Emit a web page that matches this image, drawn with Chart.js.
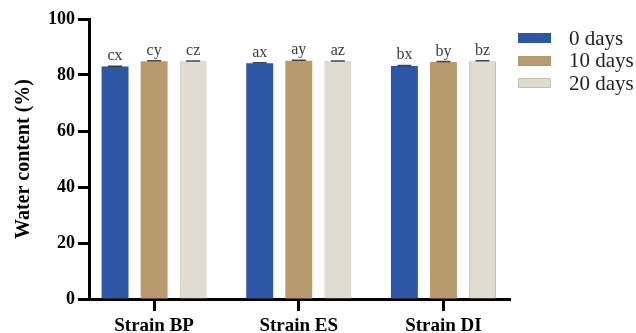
<!DOCTYPE html>
<html>
<head>
<meta charset="utf-8">
<script src="https://cdn.jsdelivr.net/npm/chart.js@4.4.1/dist/chart.umd.min.js"></script>
<style>
  body { margin: 0; background: #fff; }
  #wrap { position: relative; width: 636px; height: 333px; }
  #legend { position: absolute; left: 518px; top: 27px; font-family: "Liberation Serif", serif; font-size: 21px; color: #222; }
  .row { display: flex; align-items: center; height: 22.5px; }
  .box { width: 33px; height: 10px; margin-right: 18px; box-sizing: border-box; }
</style>
</head>
<body>
<div id="wrap">
  <canvas id="waterChart" width="636" height="333"></canvas>
  <div id="legend"></div>
</div>
<script>
const strains = ["Strain BP", "Strain ES", "Strain DI"];
const dayLabels = ["0 days", "10 days", "20 days"];

// water content (%) per strain, one array per storage time
const day0 = [83.0, 84.2, 83.2];
const day10 = [84.9, 85.1, 84.6];
const day20 = [84.9, 84.9, 84.9];

// standard deviations
const err0 = [0.15, 0.2, 0.2];
const err10 = [0.15, 0.15, 0.2];
const err20 = [0.1, 0.1, 0.15];

// significance letters above each bar
const letters0 = ["cx", "ax", "bx"];
const letters10 = ["cy", "ay", "by"];
const letters20 = ["cz", "az", "bz"];

const yTicks = [0, 20, 40, 60, 80, 100];

const colors = ["#2d56a4", "#b79b6f", "#dedbd0"];
const borders = ["#2d56a4", "#b0966a", "#c4c1b8"];

const series = [day0, day10, day20];
const errors = [err0, err10, err20];
const letters = [letters0, letters10, letters20];

// little legend next to the plot
const legendEl = document.getElementById('legend');
dayLabels.forEach((txt, i) => {
    const row = document.createElement('div');
    row.className = 'row';
    const box = document.createElement('span');
    box.className = 'box';
    box.style.background = colors[i];
    box.style.border = '1px solid ' + borders[i];
    const label = document.createElement('span');
    label.innerText = txt;
    row.appendChild(box);
    row.appendChild(label);
    legendEl.appendChild(row);
});

// error caps and letters on top of the bars
const barExtras = {
    id: 'barExtras',
    afterDatasetsDraw(chart) {
        const ctx = chart.ctx;
        const yScale = chart.scales.y;
        ctx.save();
        chart.data.datasets.forEach((ds, d) => {
            const meta = chart.getDatasetMeta(d);
            meta.data.forEach((bar, i) => {
                const v = series[d][i];
                const top = yScale.getPixelForValue(v + errors[d][i]);
                const base = yScale.getPixelForValue(v);
                ctx.strokeStyle = 'rgba(25,25,35,0.8)';
                ctx.lineWidth = 1.5;
                ctx.beginPath();
                ctx.moveTo(bar.x, base);
                ctx.lineTo(bar.x, top);
                ctx.moveTo(bar.x - 7, top);
                ctx.lineTo(bar.x + 7, top);
                ctx.stroke();

                ctx.fillStyle = '#3a3a3a';
                ctx.font = '16px "Liberation Serif"';
                ctx.textAlign = 'center';
                ctx.textBaseline = 'alphabetic';
                ctx.fillText(letters[d][i], bar.x, top - 6);
            });
        });
        ctx.restore();
    }
};

const ctx = document.getElementById('waterChart').getContext('2d');
new Chart(ctx, {
    type: 'bar',
    data: {
        datasets: series.map((vals, d) => ({
            label: dayLabels[d],
            data: vals.map((v, i) => ({ x: i, y: v })),
            backgroundColor: colors[d],
            borderColor: borders[d],
            borderWidth: d === 2 ? 1 : 0,
            categoryPercentage: 0.81,
            barPercentage: 0.69
        }))
    },
    options: {
        responsive: false,
        animation: false,
        events: [],
        layout: { padding: { top: 19, right: 126, left: 0, bottom: 0 } },
        plugins: {
            legend: { display: false },
            tooltip: { enabled: false }
        },
        scales: {
            x: {
                type: 'linear',
                min: -0.45,
                max: 2.46,
                offset: false,
                afterBuildTicks: axis => { axis.ticks = strains.map((_, i) => ({ value: i })); },
                afterFit: axis => { axis.height = 34; },
                border: { color: '#000', width: 3 },
                grid: { offset: false, drawOnChartArea: false, tickLength: 12, tickWidth: 3, tickColor: '#000' },
                ticks: {
                    padding: 4,
                    color: '#000',
                    font: { family: '"Liberation Serif"', size: 19, weight: 'bold' },
                    callback: v => strains[v]
                }
            },
            y: {
                min: 0,
                max: 100,
                afterBuildTicks: axis => { axis.ticks = yTicks.map(v => ({ value: v })); },
                afterFit: axis => { axis.width = 89; },
                border: { color: '#000', width: 3 },
                grid: { drawOnChartArea: false, tickLength: 11, tickWidth: 3, tickColor: '#000' },
                ticks: {
                    padding: 3,
                    color: '#000',
                    font: { family: '"Liberation Serif"', size: 18, weight: 'bold' }
                },
                title: {
                    display: true,
                    text: 'Water content (%)',
                    color: '#000',
                    padding: { top: 12, bottom: 0 },
                    font: { family: '"Liberation Serif"', size: 20, weight: 'bold' }
                }
            }
        }
    },
    plugins: [barExtras]
});
</script>
</body>
</html>
